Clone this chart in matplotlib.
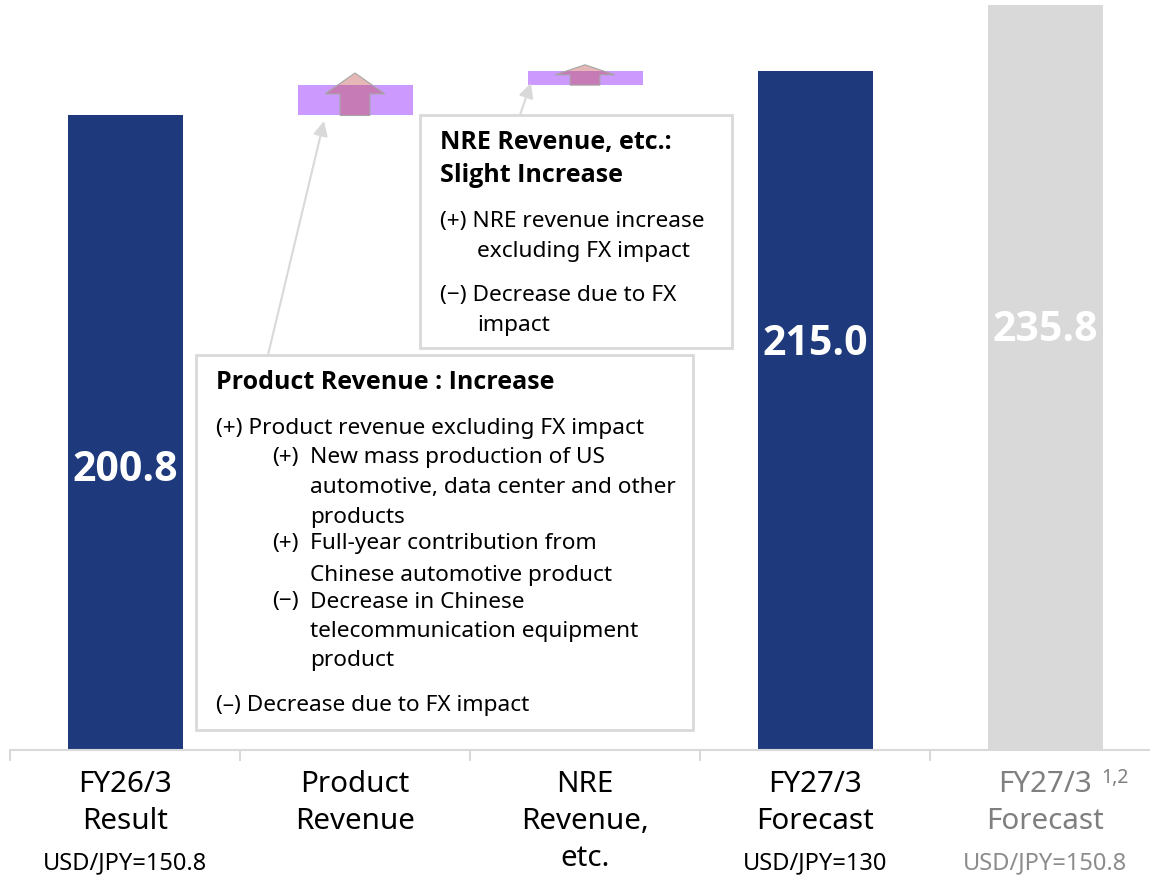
import matplotlib.pyplot as plt
from matplotlib.patches import Polygon, Rectangle, FancyArrowPatch

plt.rcParams['font.family'] = ['Noto Sans', 'DejaVu Sans']
BOLD_FAMILY = ['Open Sans', 'DejaVu Sans']

# values (100M JPY)
categories = ['FY26/3\nResult', 'Product\nRevenue', 'NRE\nRevenue,\netc.', 'FY27/3\nForecast', 'FY27/3\nForecast']
fx_notes = ['USD/JPY=150.8', '', '', 'USD/JPY=130', 'USD/JPY=150.8']
result_fy26 = 200.8
product_delta = 9.6
nre_delta = 4.6
forecast_fy27 = 215.0
forecast_fy27_same_fx = 235.8

bottoms = [0, result_fy26, result_fy26 + product_delta, 0, 0]
heights = [result_fy26, product_delta, nre_delta, forecast_fy27, forecast_fy27_same_fx]
value_labels = [f'{result_fy26:.1f}', '', '', f'{forecast_fy27:.1f}', f'{forecast_fy27_same_fx:.1f}']

# style
NAVY = '#1F3A7C'
GREY = '#D9D9D9'
PURPLE = '#CC99FF'
colors = [NAVY, PURPLE, PURPLE, NAVY, GREY]
label_y = [88.9, 0, 0, 128.5, 133.2]
text_colors = ['black', 'black', 'black', 'black', '#7F7F7F']

W, H = 1150, 879
fig = plt.figure(figsize=(W / 100, H / 100), dpi=100)
ax = fig.add_axes([10 / W, 128 / H, 1.0, 751 / H])
x = list(range(len(categories)))
ax.bar(x, heights, bottom=bottoms, width=0.5, color=colors, zorder=2)
ax.set_xlim(-0.5, 4.5)
ax.set_ylim(0, 751 / 3.16)

# up arrows on the bridge bars
for i in (1, 2):
    b, h = bottoms[i], heights[i]
    top = b + h
    tip, hb = top + 0.4 * h, top - 0.29 * h
    pts = [(i - 0.065, b), (i - 0.065, hb), (i - 0.13, hb), (i, tip),
           (i + 0.13, hb), (i + 0.065, hb), (i + 0.065, b)]
    ax.add_patch(Polygon(pts, closed=True, facecolor=(0.75, 0.31, 0.30, 0.4),
                         edgecolor='#A6A6A6', lw=0.8, zorder=3, clip_on=False))

for i, lab in enumerate(value_labels):
    if lab:
        ax.text(i, label_y[i], lab, ha='center', va='center', color='white',
                fontsize=29.5, fontweight='bold', family=BOLD_FAMILY, zorder=4)

for s in ['top', 'right', 'left']:
    ax.spines[s].set_visible(False)
ax.spines['bottom'].set_color(GREY)
ax.spines['bottom'].set_linewidth(1.5)
ax.set_yticks([])
ax.set_xticks([])
ax.set_xticks([-0.5, 0.5, 1.5, 2.5, 3.5], minor=True)
ax.tick_params(axis='x', which='minor', length=8, width=1.5, color=GREY)
ax.set_xticklabels([], minor=True)

# category labels
for i, cat in enumerate(categories):
    for k, line in enumerate(cat.split('\n')):
        ax.annotate(line, xy=(i, 0), xycoords=('data', 'axes fraction'),
                    xytext=(0, -(34 + 37 * k)), textcoords='offset pixels',
                    ha='center', va='center', fontsize=21.3, color=text_colors[i])
    if fx_notes[i]:
        ax.annotate(fx_notes[i], xy=(i, 0), xycoords=('data', 'axes fraction'),
                    xytext=(0, -112), textcoords='offset pixels',
                    ha='center', va='center', fontsize=17,
                    color='black' if i < 4 else '#8C8C8C')
ax.annotate('1,2', xy=(4, 0), xycoords=('data', 'axes fraction'),
            xytext=(56, -27), textcoords='offset pixels',
            ha='left', va='center', fontsize=14, color='#7F7F7F')


def px(xp, yp):
    return xp / W, 1 - yp / H


# comment boxes
for (x0, y0, x1, y1) in [(196, 356, 693, 731), (420, 116, 732, 349)]:
    fig.add_artist(Rectangle(px(x0, y1), (x1 - x0) / W, (y1 - y0) / H,
                             transform=fig.transFigure, facecolor='white',
                             edgecolor=GREY, lw=2, zorder=5))

# connectors
for start, end in [((268, 356), (324, 122)), ((520, 116), (531, 84))]:
    fig.add_artist(FancyArrowPatch(
        px(*start), px(*end), transform=fig.transFigure, arrowstyle='-|>',
        mutation_scale=22, color=GREY, lw=1.5, shrinkA=0, shrinkB=0, zorder=5))

box_lines = [
    (216, 383, 'Product Revenue : Increase', True),
    (216, 429, '(+) Product revenue excluding FX impact', False),
    (272, 458, '(+)', False),
    (310, 458, 'New mass production of US', False),
    (310, 488, 'automotive, data center and other', False),
    (310, 517, 'products', False),
    (272, 544, '(+)', False),
    (310, 544, 'Full-year contribution from', False),
    (310, 575, 'Chinese automotive product', False),
    (272, 602, '(\u2212)', False),
    (310, 602, 'Decrease in Chinese', False),
    (310, 632, 'telecommunication equipment', False),
    (310, 661, 'product', False),
    (216, 705, '(\u2013) Decrease due to FX impact', False),
    (440, 143, 'NRE Revenue, etc.:', True),
    (440, 175, 'Slight Increase', True),
    (440, 221, '(+) NRE revenue increase', False),
    (477, 251, 'excluding FX impact', False),
    (440, 296, '(\u2212) Decrease due to FX', False),
    (477, 325, 'impact', False),
]
for xp, yp, t, bold in box_lines:
    if bold:
        fig.text(*px(xp, yp), t, ha='left', va='center', zorder=6,
                 fontsize=18, fontweight='bold', family=BOLD_FAMILY)
    else:
        fig.text(*px(xp, yp), t, ha='left', va='center', zorder=6, fontsize=16.3)

fig.savefig('out.png', dpi=100)
